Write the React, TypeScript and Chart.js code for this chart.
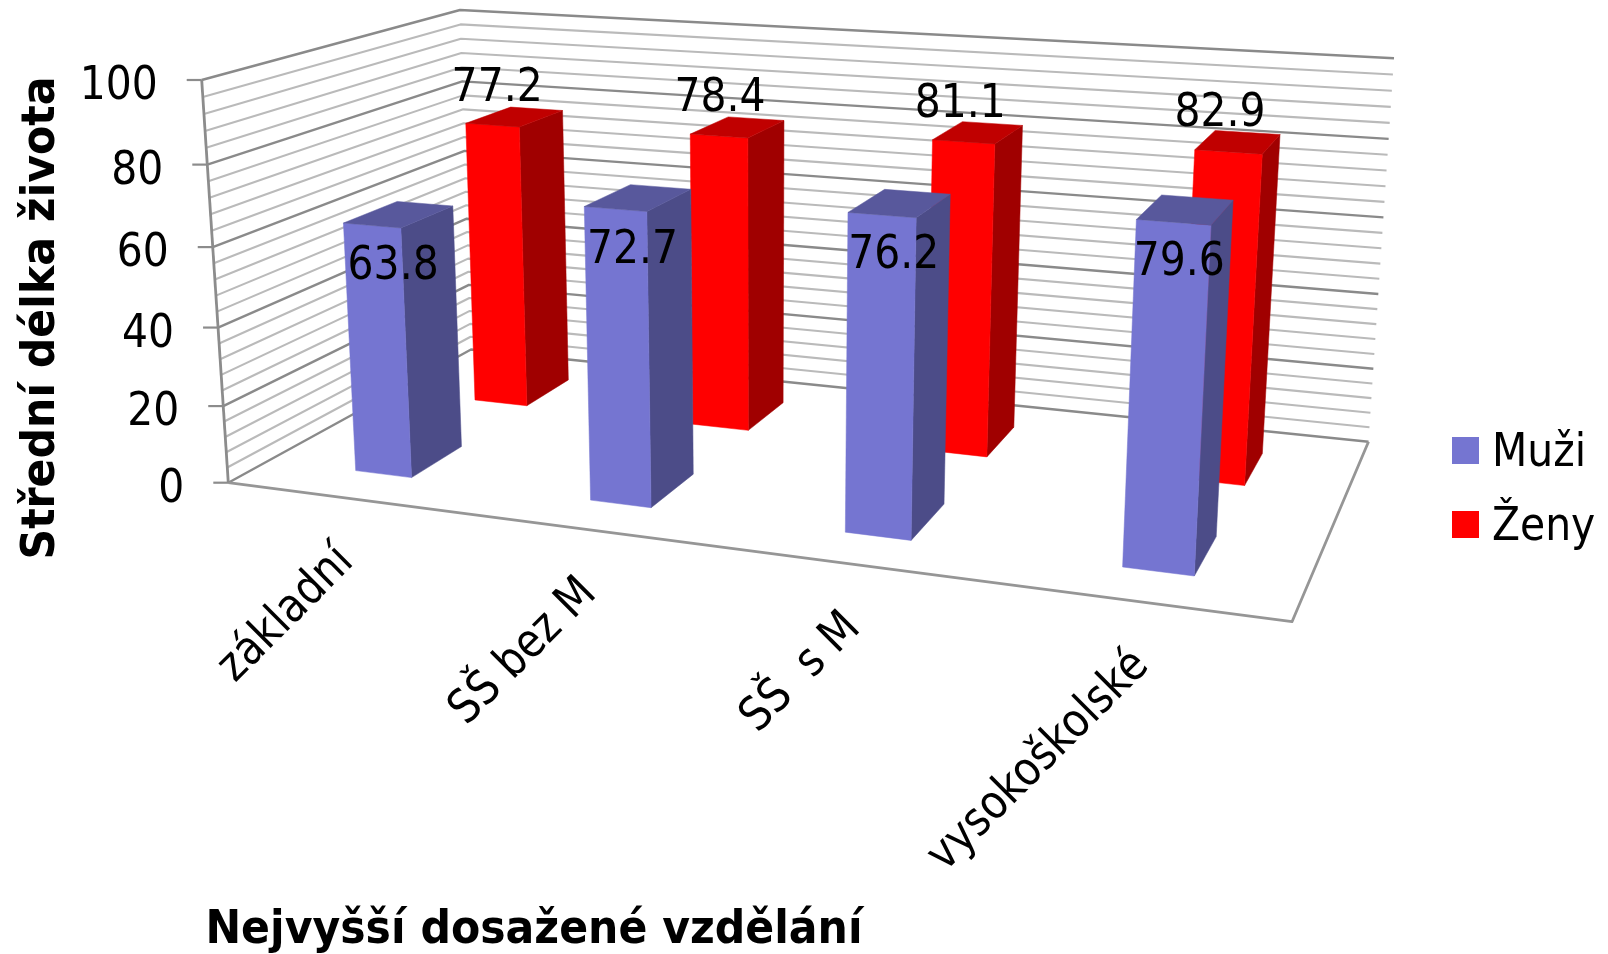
import React, { useEffect, useRef } from "react";
import { Chart, registerables } from "chart.js";

Chart.register(...registerables);

const categories = ["základní", "SŠ bez M", "SŠ  s M", "vysokoškolské"];
const muzi = [63.8, 72.7, 76.2, 79.6];
const zeny = [77.2, 78.4, 81.1, 82.9];
const seriesNames = ["Muži", "Ženy"];
const yTitle = "Střední délka života";
const xTitle = "Nejvyšší dosažené vzdělání";

type P = [number, number];

// Box of the 3-D plot as it appears on the page: [left-front, right-front, right-back, left-back]
const FLOOR: P[] = [[228.3, 482.7], [1292, 621.7], [1368.5, 441.7], [471, 349.5]];
const TOP: P[] = [[201.7, 80], [1319.3, 153.9], [1394, 58.3], [460, 10]];
const V_PERSPECTIVE = 0.94;
const BAR_DEPTH = 0.205;
const BAR_SHIFT = 0.002;

const STYLES = [
  { front: "#7575D1", side: "#4C4C88", top: "#58589C", labelDx: -4, labelDy: 53 },
  { front: "#FF0000", side: "#A00000", top: "#C00000", labelDx: -16, labelDy: -28 },
];

const FONT = '47px "DejaVu Sans"';
const BOLD = 'bold 47px "DejaVu Sans"';
const SQUEEZE = 0.87;
const SQUEEZE_BOLD = 0.907;

function quadMap(q: P[]) {
  const [[x0, y0], [x1, y1], [x2, y2], [x3, y3]] = q;
  const dx1 = x1 - x2, dx2 = x3 - x2, sx = x0 - x1 + x2 - x3;
  const dy1 = y1 - y2, dy2 = y3 - y2, sy = y0 - y1 + y2 - y3;
  const det = dx1 * dy2 - dx2 * dy1;
  const g = (sx * dy2 - dx2 * sy) / det;
  const h = (dx1 * sy - sx * dy1) / det;
  const a = x1 - x0 + g * x1, b = x3 - x0 + h * x3, c = x0;
  const d = y1 - y0 + g * y1, e = y3 - y0 + h * y3, f = y0;
  return (u: number, w: number): P => {
    const k = g * u + h * w + 1;
    return [(a * u + b * w + c) / k, (d * u + e * w + f) / k];
  };
}
const floorMap = quadMap(FLOOR);
const topMap = quadMap(TOP);

function project(u: number, v: number, w: number): P {
  const p = floorMap(u, w), q = topMap(u, w);
  const t = (v * V_PERSPECTIVE) / (1 - v + v * V_PERSPECTIVE);
  return [p[0] + (q[0] - p[0]) * t, p[1] + (q[1] - p[1]) * t];
}

function drawText(ctx: CanvasRenderingContext2D, s: string, x: number, y: number, font: string, align: CanvasTextAlign, rot = 0, sx = SQUEEZE, base: CanvasTextBaseline = "middle") {
  ctx.save();
  ctx.translate(x, y);
  ctx.rotate(rot);
  ctx.scale(sx, 1);
  ctx.font = font;
  ctx.fillStyle = "#000";
  ctx.textAlign = align;
  ctx.textBaseline = base;
  ctx.fillText(s, 0, 0);
  ctx.restore();
}

function poly(ctx: CanvasRenderingContext2D, pts: P[], color: string) {
  ctx.beginPath();
  pts.forEach((p, i) => (i ? ctx.lineTo(p[0], p[1]) : ctx.moveTo(p[0], p[1])));
  ctx.closePath();
  ctx.fillStyle = color;
  ctx.fill();
  ctx.strokeStyle = color;
  ctx.lineWidth = 0.5;
  ctx.stroke();
}

function line(ctx: CanvasRenderingContext2D, pts: P[], color: string, width: number) {
  ctx.beginPath();
  pts.forEach((p, i) => (i ? ctx.lineTo(p[0], p[1]) : ctx.moveTo(p[0], p[1])));
  ctx.strokeStyle = color;
  ctx.lineWidth = width;
  ctx.stroke();
}

const box3d = {
  id: "box3d",
  beforeDatasetsDraw(chart: any) {
    const ctx: CanvasRenderingContext2D = chart.ctx;
    const { left, bottom, width, height } = chart.chartArea;
    const toU = (px: number) => (px - left) / width;
    const toV = (py: number) => (bottom - py) / height;
    const yScale = chart.scales.y;
    const xScale = chart.scales.x;

    ctx.save();
    ctx.lineJoin = "round";

    // gridlines on the side and back walls
    for (const tick of yScale.ticks) {
      const v = toV(yScale.getPixelForValue(tick.value));
      const major = tick.value % 20 === 0;
      line(ctx, [project(0, v, 0), project(0, v, 1), project(1, v, 1)], major ? "#8A8A8A" : "#BABABA", major ? 2.4 : 2.1);
    }
    // floor outline and the value axis
    line(ctx, [project(0, 0, 0), project(1, 0, 0), project(1, 0, 1)], "#969696", 2.8);
    line(ctx, [project(0, 0, 0), project(0, 1, 0)], "#8C8C8C", 2.8);

    // value ticks and their labels
    for (const tick of yScale.ticks) {
      if (tick.value % 20 !== 0) continue;
      const v = toV(yScale.getPixelForValue(tick.value));
      const a = project(0, v, 0);
      line(ctx, [[a[0] - 15, a[1]], a], "#8C8C8C", 2.2);
      drawText(ctx, String(tick.value), a[0] - 44, a[1] + 7, FONT, "right");
    }

    // bars, back row first
    for (let d = chart.data.datasets.length - 1; d >= 0; d--) {
      const st = STYLES[d];
      const w0 = (d + 0.5) / 2 - BAR_DEPTH / 2;
      const w1 = w0 + BAR_DEPTH;
      chart.getDatasetMeta(d).data.forEach((bar: any) => {
        const u0 = toU(bar.x - bar.width / 2) + BAR_SHIFT;
        const u1 = toU(bar.x + bar.width / 2) + BAR_SHIFT;
        const v = toV(bar.y);
        const v0 = toV(bar.base);
        poly(ctx, [project(u1, v0, w0), project(u1, v0, w1), project(u1, v, w1), project(u1, v, w0)], st.side);
        poly(ctx, [project(u0, v0, w0), project(u1, v0, w0), project(u1, v, w0), project(u0, v, w0)], st.front);
        poly(ctx, [project(u0, v, w0), project(u1, v, w0), project(u1, v, w1), project(u0, v, w1)], st.top);
      });
    }

    // value labels
    chart.data.datasets.forEach((ds: any, d: number) => {
      const st = STYLES[d];
      const wc = (d + 0.5) / 2;
      chart.getDatasetMeta(d).data.forEach((bar: any, i: number) => {
        const p = project(toU(bar.x), toV(bar.y), wc);
        drawText(ctx, ds.data[i].toFixed(1), p[0] + st.labelDx, p[1] + st.labelDy, FONT, "center");
      });
    });

    // category labels
    chart.data.labels.forEach((lab: string, i: number) => {
      const p = project(toU(xScale.getPixelForValue(i)), 0, 0);
      drawText(ctx, lab, p[0] + 4, p[1] + 57, FONT, "right", (-45 * Math.PI) / 180);
    });

    // axis titles
    drawText(ctx, xTitle, 534, 931, BOLD, "center", 0, SQUEEZE_BOLD);
    drawText(ctx, yTitle, 42, 318, BOLD, "center", -Math.PI / 2, SQUEEZE_BOLD);

    // legend
    chart.data.datasets.forEach((ds: any, d: number) => {
      const y = 437 + d * 74;
      ctx.fillStyle = ds.backgroundColor;
      ctx.fillRect(1452, y, 27, 27);
      drawText(ctx, ds.label, 1492, y + 29, FONT, "left", 0, SQUEEZE, "alphabetic");
    });

    ctx.restore();
    return false; // the flat bars are replaced by the projected ones
  },
};

export default function App() {
  const ref = useRef<HTMLCanvasElement>(null);
  useEffect(() => {
    const chart = new Chart(ref.current!, {
      type: "bar",
      data: {
        labels: categories,
        datasets: [
          { label: seriesNames[0], data: muzi, backgroundColor: STYLES[0].front, grouped: false, categoryPercentage: 1, barPercentage: 0.245 },
          { label: seriesNames[1], data: zeny, backgroundColor: STYLES[1].front, grouped: false, categoryPercentage: 1, barPercentage: 0.245 },
        ],
      } as any,
      options: {
        responsive: false,
        animation: false,
        devicePixelRatio: 1,
        layout: { padding: 0 },
        plugins: { legend: { display: false }, tooltip: { enabled: false }, title: { display: false } },
        scales: {
          x: { display: false },
          y: { display: false, min: 0, max: 100, ticks: { stepSize: 4 } },
        },
      },
      plugins: [box3d],
    } as any);
    return () => chart.destroy();
  }, []);
  return (
    <div style={{ position: "absolute", left: 0, top: 0, width: 1608, height: 954, background: "#fff" }}>
      <canvas ref={ref} width={1608} height={954} style={{ display: "block" }} />
    </div>
  );
}
